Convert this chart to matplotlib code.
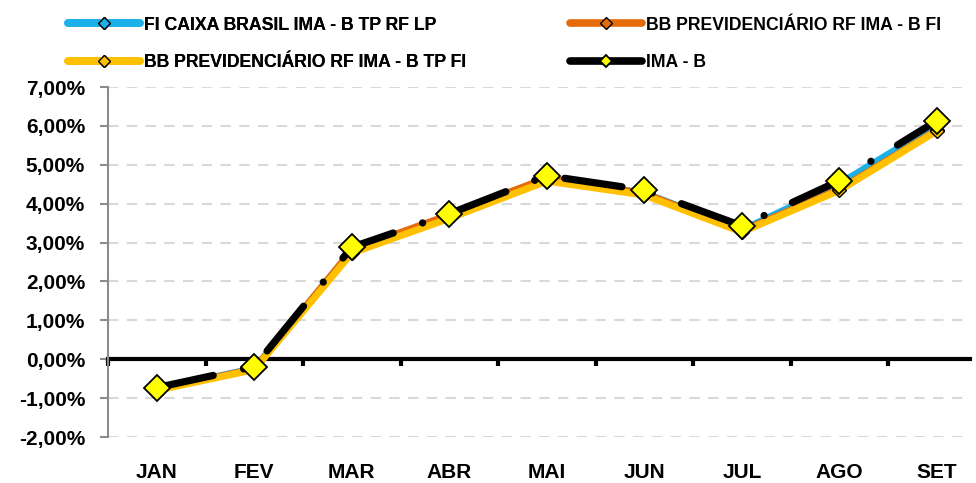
import matplotlib.pyplot as plt
from matplotlib.ticker import FuncFormatter

OUTPUT_IMAGE = "out.png"

meses = ["JAN", "FEV", "MAR", "ABR", "MAI", "JUN", "JUL", "AGO", "SET"]

# rentabilidade acumulada (%)
caixa_ima_b = [-0.76, -0.23, 2.80, 3.68, 4.65, 4.28, 3.33, 4.52, 6.04]
bb_ima_b_fi = [-0.78, -0.24, 2.82, 3.72, 4.67, 4.27, 3.31, 4.38, 5.90]
bb_ima_b_tp = [-0.80, -0.27, 2.73, 3.62, 4.58, 4.22, 3.27, 4.34, 5.87]
ima_b = [-0.73, -0.19, 2.88, 3.74, 4.72, 4.35, 3.43, 4.59, 6.13]

FONTE = "Liberation Sans"


def legenda(fig, handles, x_px):
    leg = fig.legend(handles=handles, loc="upper left", bbox_to_anchor=(x_px / 976, 0.995),
                     ncol=1, frameon=False, fontsize=12.7, handlelength=4.1,
                     handletextpad=0.2, labelspacing=1.15, numpoints=1, borderpad=0.3)
    for h in leg.legend_handles:
        h.set_markersize(6)
        h.set_linewidth(5.5)
        h.set_solid_capstyle("round")
        h.set_linestyle("-")
    return leg


def main():
    plt.rcParams["font.family"] = [FONTE, "DejaVu Sans"]
    plt.rcParams["font.weight"] = "bold"

    fig = plt.figure(figsize=(9.76, 4.83), dpi=100)
    ax = fig.add_axes([108 / 976, 1 - 437 / 483, (970 - 108) / 976, 350 / 483])

    x = list(range(len(meses)))

    l1, = ax.plot(x, caixa_ima_b, color="#1cb0e8", lw=4.5, marker="D", ms=7,
                  mfc="#1cb0e8", mec="black", mew=1, label="FI CAIXA BRASIL IMA - B TP RF LP", zorder=3)
    l2, = ax.plot(x, bb_ima_b_fi, color="#e46c0a", lw=4.5, marker="D", ms=7,
                  mfc="#e46c0a", mec="black", mew=1, label="BB PREVIDENCIÁRIO RF IMA - B FI", zorder=4)
    l3, = ax.plot(x, bb_ima_b_tp, color="#ffc000", lw=5, marker="D", ms=7,
                  mfc="#ffc000", mec="black", mew=1, label="BB PREVIDENCIÁRIO RF IMA - B TP FI", zorder=5)
    l4, = ax.plot(x, ima_b, color="black", lw=5.2, ls=(0, (8, 4.3, 0.01, 4.3)),
                  dash_capstyle="round", marker="D", ms=13, mfc="#ffff00",
                  mec="black", mew=1.3, label="IMA - B", zorder=6)

    ax.set_ylim(-2, 7)
    ax.set_xlim(-0.5, 8.34)
    ax.set_yticks(range(-2, 8))
    ax.yaxis.set_major_formatter(FuncFormatter(lambda v, p: f"{v:.2f}%".replace(".", ",")))
    ax.grid(axis="y", color="#d9d9d9", ls=(0, (5, 4)), lw=1.5, zorder=0)

    for lado in ["top", "right"]:
        ax.spines[lado].set_visible(False)
    ax.spines["left"].set_color("#8c8c8c")
    ax.spines["left"].set_linewidth(1.5)
    ax.spines["bottom"].set_position(("data", 0))
    ax.spines["bottom"].set_linewidth(3)
    ax.spines["bottom"].set_zorder(2)

    ax.tick_params(axis="y", length=5.5, width=1.5, color="#8c8c8c", labelsize=15, pad=11)
    ax.set_xticks(x)
    ax.set_xticklabels(meses)
    ax.set_xticks([i - 0.5 for i in range(len(meses))], minor=True)
    ax.tick_params(axis="x", which="major", length=0, labelsize=15, pad=75)
    ax.tick_params(axis="x", which="minor", length=5, width=3, color="black", direction="out")

    leg1 = legenda(fig, [l1, l3], 54)
    fig.add_artist(leg1)
    legenda(fig, [l2, l4], 556)

    fig.savefig(OUTPUT_IMAGE, dpi=100)
    plt.close(fig)


if __name__ == "__main__":
    main()
